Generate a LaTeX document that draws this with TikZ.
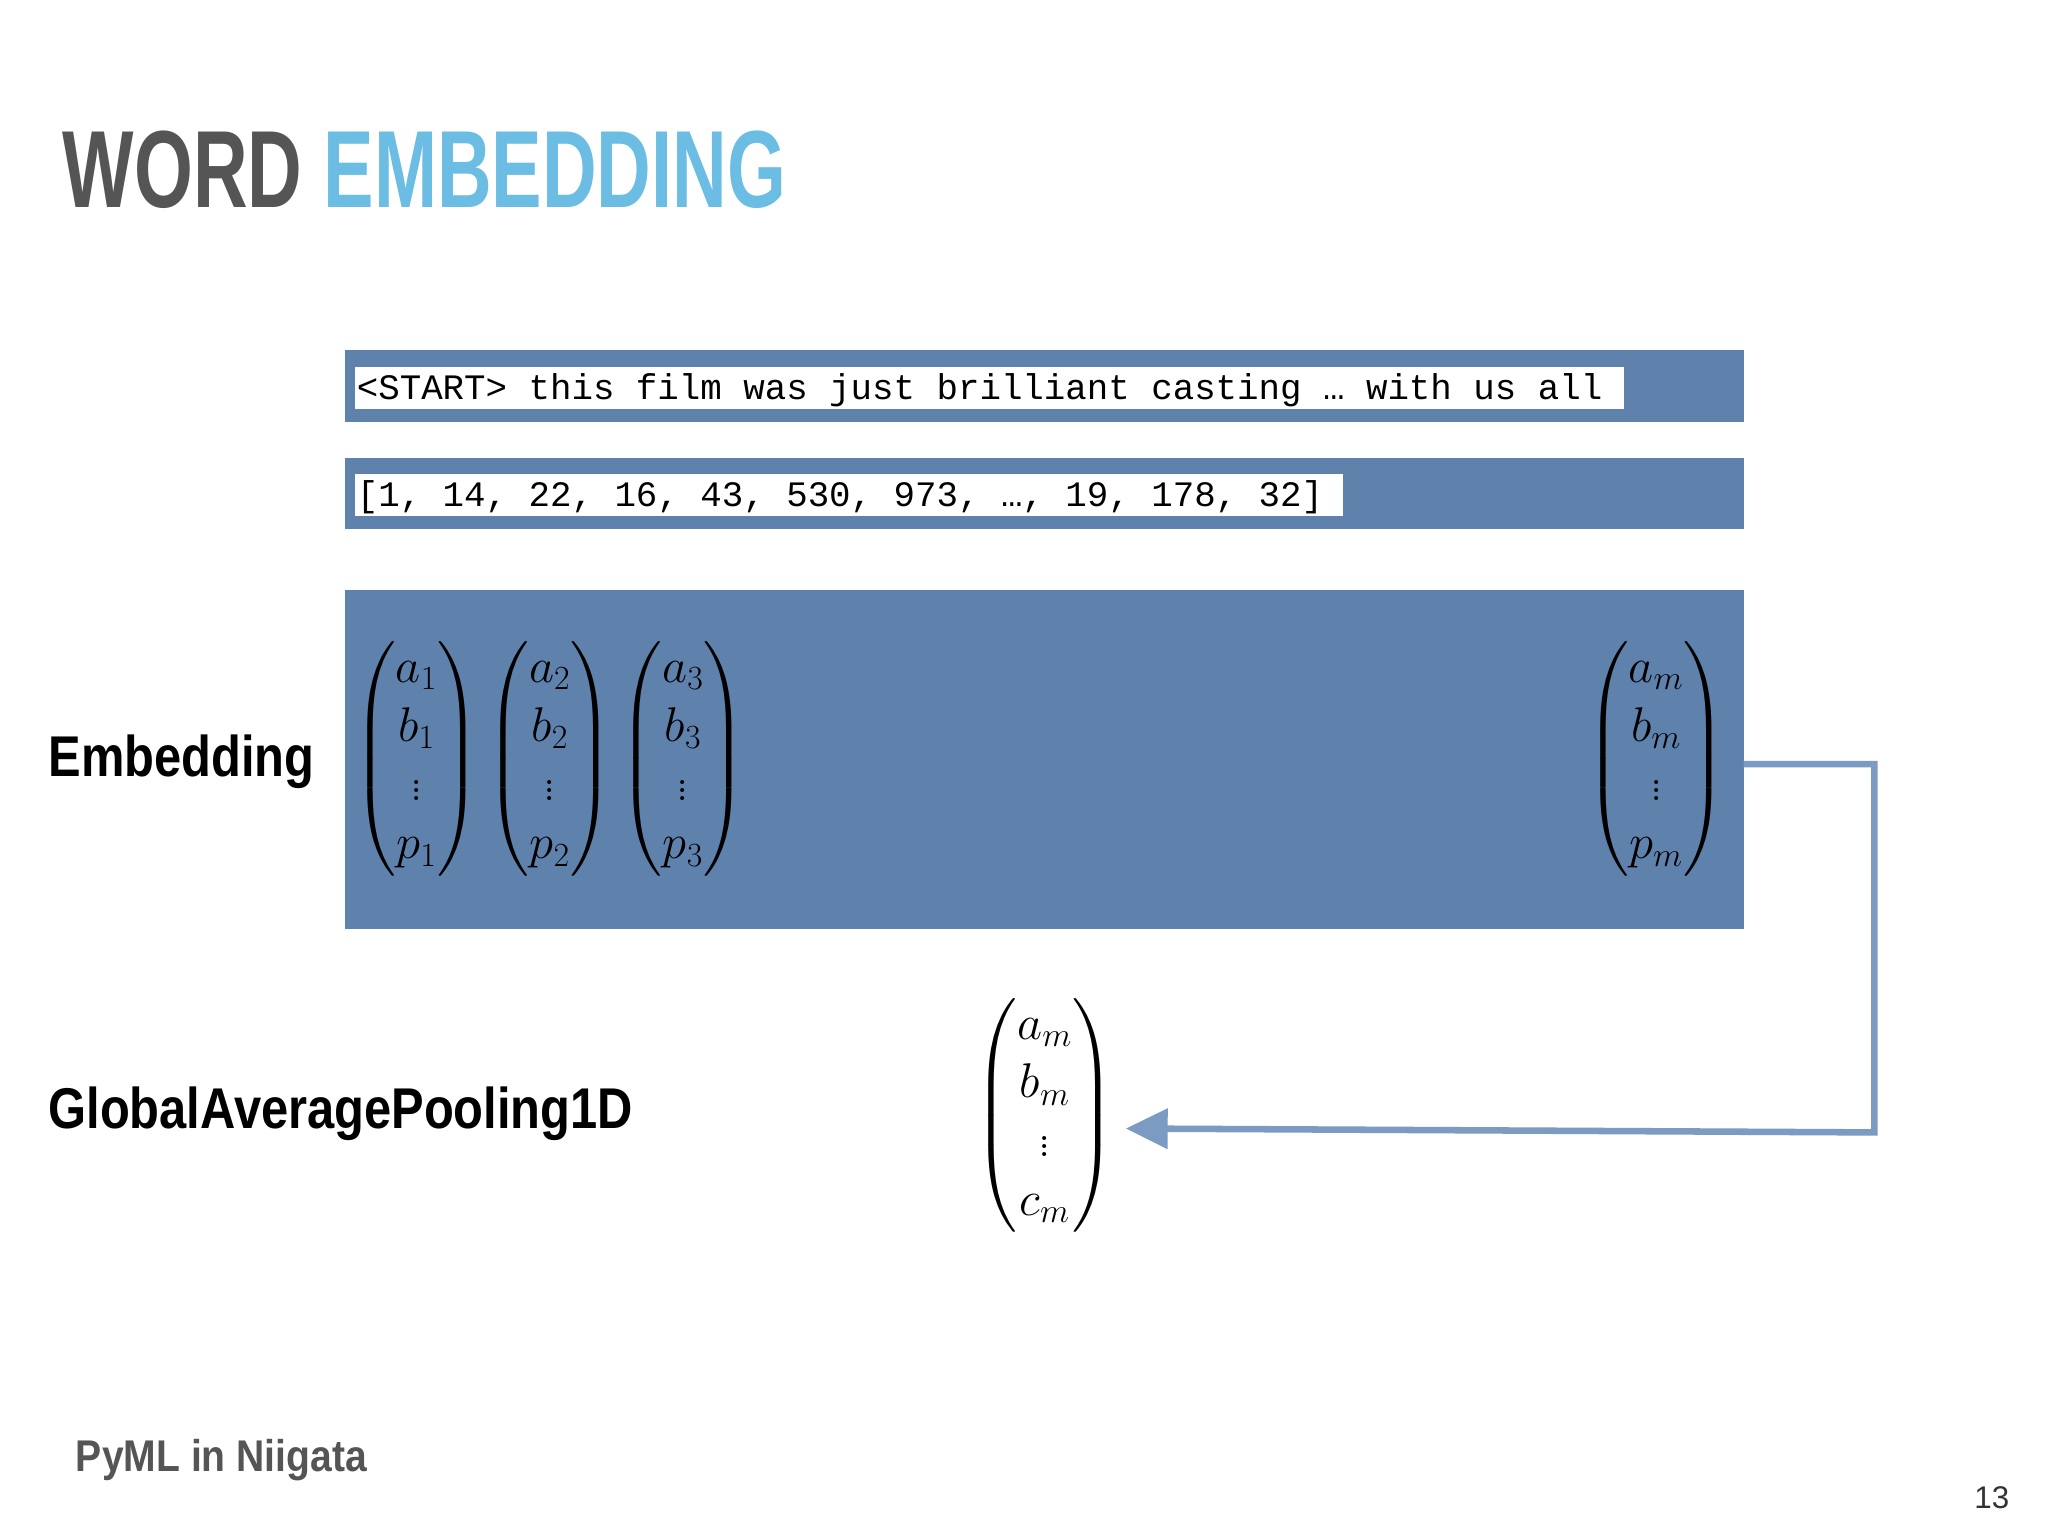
\documentclass[tikz,border=0pt]{standalone}
\usepackage{amsmath}
\usepackage{graphicx}
\usepackage{fontspec}
\newfontfamily\hfont{Liberation Sans}
\newfontfamily\mfont{Liberation Mono}
\usetikzlibrary{arrows.meta}
\definecolor{boxblue}{HTML}{5F82AD}
\definecolor{arrblue}{HTML}{7B9BC3}
\definecolor{titlegray}{HTML}{555555}
\definecolor{titleblue}{HTML}{6BBDE3}
\newcommand{\vecbox}[1]{\scalebox{1.5}{$\begin{pmatrix} #1 \end{pmatrix}$}}
\tikzset{
  band/.style={fill=boxblue, draw=none},
  wbox/.style={fill=white, draw=none},
  mono/.style={font=\mfont\fontsize{27.4}{30}\selectfont, anchor=west, inner sep=0pt},
  vec/.style={font=\fontsize{25}{30}\selectfont, inner sep=0pt},
  lab/.style={font=\hfont\bfseries\fontsize{44}{50}\selectfont, anchor=west, inner sep=0pt, xscale=0.85},
}
\begin{document}
\begin{tikzpicture}[x=1pt,y=-1pt]
\useasboundingbox (0,0) rectangle (1568,1176);
\fill[white] (0,0) rectangle (1568,1176);
\node[anchor=west, inner sep=0pt, font=\hfont\bfseries\fontsize{84}{90}\selectfont, xscale=0.69, transform shape] (title) at (48,130) {\textcolor{titlegray}{WORD} \textcolor{titleblue}{EMBEDDING}};
\fill[band] (264,268) rectangle (1335,323);
\fill[wbox] (272,281) rectangle (1243,313);
\node[mono] (sent) at (273,299) {<START> this film was just brilliant casting … with us all};
\fill[band] (264,351) rectangle (1335,405);
\fill[wbox] (272,363) rectangle (1028,395);
\node[mono] (ids) at (273,381) {[1, 14, 22, 16, 43, 530, 973, …, 19, 178, 32]};
\fill[band] (264,452) rectangle (1335,711);
\node[vec] (v1) at (319,581) {\vecbox{a_1\\ b_1\\ \vdots\\ p_1}};
\node[vec] (v2) at (421,581) {\vecbox{a_2\\ b_2\\ \vdots\\ p_2}};
\node[vec] (v3) at (523,581) {\vecbox{a_3\\ b_3\\ \vdots\\ p_3}};
\node[vec] (vm) at (1268,581) {\vecbox{a_m\\ b_m\\ \vdots\\ p_m}};
\node[vec] (out) at (800,854) {\vecbox{a_m\\ b_m\\ \vdots\\ c_m}};
\node[lab] (emb) at (37,583) {Embedding};
\node[lab] (gap) at (37,853) {GlobalAveragePooling1D};
\coordinate (s) at (1335,585);
\coordinate (t) at (862,864);
\draw[arrblue, line width=5pt, -{Triangle[length=32pt,width=30pt]}] (s) -- (1435,585) -- (1435,867) -- (t);
\node[anchor=west, inner sep=0pt, font=\hfont\bfseries\fontsize{34}{40}\selectfont, text=titlegray, xscale=0.88] (foot) at (58,1118) {PyML in Niigata};
\node[inner sep=0pt, font=\hfont\fontsize{24}{28}\selectfont, text=black!80] (pg) at (1525,1147) {13};
\end{tikzpicture}
\end{document}
